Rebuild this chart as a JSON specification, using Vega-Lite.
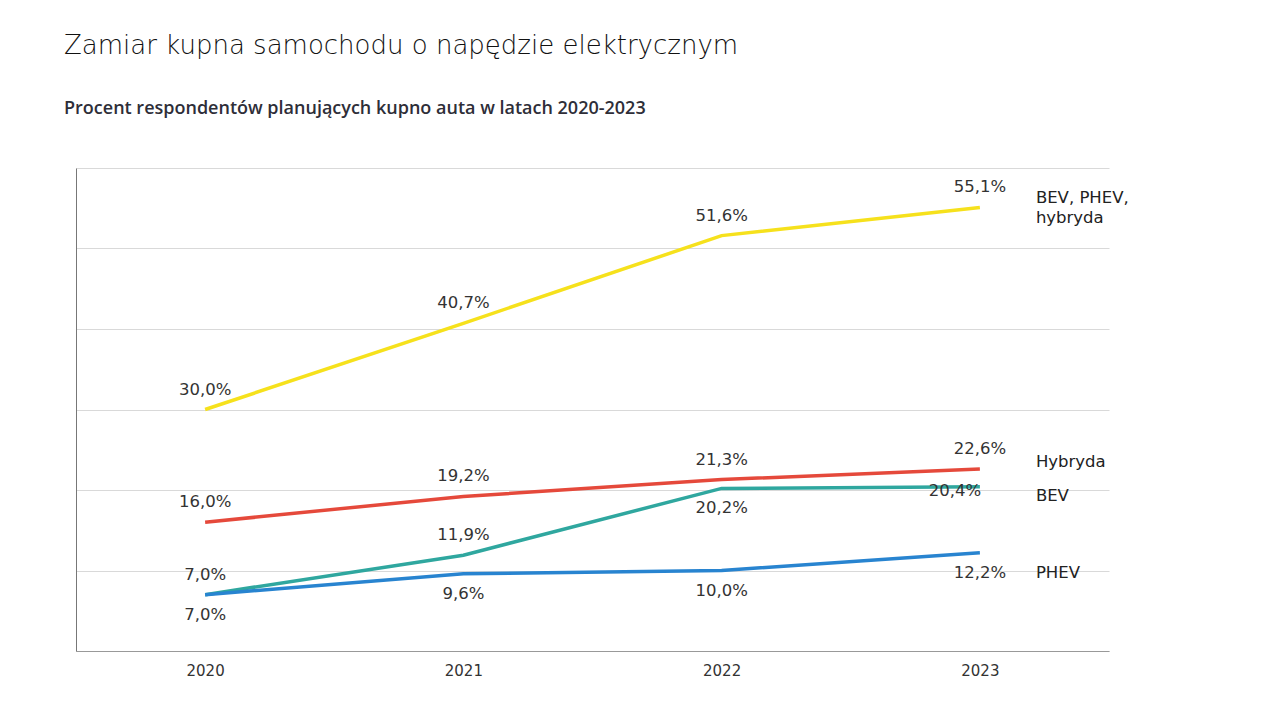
{
  "$schema": "https://vega.github.io/schema/vega-lite/v6.json",
  "autosize": "none",
  "width": 1033,
  "height": 483,
  "padding": {"left": 76, "top": 168, "right": 172, "bottom": 69},
  "background": "#ffffff",
  "title": {
    "text": "Zamiar kupna samochodu o napędzie elektrycznym",
    "subtitle": "Procent respondentów planujących kupno auta w latach 2020-2023",
    "anchor": "start",
    "frame": "group",
    "dx": -12,
    "offset": 50,
    "font": "DejaVu Sans",
    "fontSize": 26,
    "fontWeight": 300,
    "color": "#111111",
    "subtitleFont": "Open Sans",
    "subtitleFontSize": 18,
    "subtitleFontWeight": 600,
    "subtitleColor": "#2e2e38",
    "subtitlePadding": 41
  },
  "data": {
    "values": [
      {"series": "BEV, PHEV, hybryda", "year": "2020", "value": 30.0},
      {"series": "BEV, PHEV, hybryda", "year": "2021", "value": 40.7},
      {"series": "BEV, PHEV, hybryda", "year": "2022", "value": 51.6},
      {"series": "BEV, PHEV, hybryda", "year": "2023", "value": 55.1},
      {"series": "Hybryda", "year": "2020", "value": 16.0},
      {"series": "Hybryda", "year": "2021", "value": 19.2},
      {"series": "Hybryda", "year": "2022", "value": 21.3},
      {"series": "Hybryda", "year": "2023", "value": 22.6},
      {"series": "BEV", "year": "2020", "value": 7.0},
      {"series": "BEV", "year": "2021", "value": 11.9},
      {"series": "BEV", "year": "2022", "value": 20.2},
      {"series": "BEV", "year": "2023", "value": 20.4},
      {"series": "PHEV", "year": "2020", "value": 7.0},
      {"series": "PHEV", "year": "2021", "value": 9.6},
      {"series": "PHEV", "year": "2022", "value": 10.0},
      {"series": "PHEV", "year": "2023", "value": 12.2}
    ]
  },
  "transform": [
    {"calculate": "replace(format(datum.value, '.1f'), '.', ',') + '%'", "as": "label"},
    {"calculate": "replace(datum.series, 'PHEV, ', 'PHEV,\\n')", "as": "name"}
  ],
  "encoding": {
    "x": {
      "field": "year",
      "type": "ordinal",
      "scale": {"type": "point", "padding": 0.5},
      "axis": {
        "title": null,
        "labelAngle": 0,
        "labelFont": "DejaVu Sans",
        "labelFontSize": 15,
        "labelColor": "#333333",
        "labelPadding": 12,
        "ticks": false,
        "domainColor": "#999999",
        "domainWidth": 1,
        "grid": false
      }
    },
    "y": {
      "field": "value",
      "type": "quantitative",
      "scale": {"domain": [0, 60], "nice": false},
      "axis": {
        "title": null,
        "labels": false,
        "ticks": false,
        "values": [0, 10, 20, 30, 40, 50, 60],
        "domainColor": "#777777",
        "domainWidth": 1,
        "grid": true,
        "gridColor": "#d9d9d9",
        "gridWidth": 1
      }
    }
  },
  "layer": [
    {
      "mark": {"type": "line", "strokeWidth": 3.5, "strokeCap": "butt"},
      "encoding": {
        "color": {
          "field": "series",
          "type": "nominal",
          "scale": {
            "domain": ["BEV, PHEV, hybryda", "Hybryda", "BEV", "PHEV"],
            "range": ["#f6e11c", "#e5493b", "#2fa79f", "#2884d0"]
          },
          "legend": null
        },
        "order": {"field": "year"}
      }
    },
    {
      "transform": [
        {"filter": "datum.series != 'PHEV' && !(datum.series == 'BEV' && datum.year >= '2022')"}
      ],
      "mark": {"type": "text", "dy": -20, "font": "DejaVu Sans", "fontSize": 16.5, "color": "#333333"},
      "encoding": {"text": {"field": "label"}}
    },
    {
      "transform": [
        {"filter": "datum.series == 'PHEV' || (datum.series == 'BEV' && datum.year == '2022')"}
      ],
      "mark": {"type": "text", "dy": 20, "font": "DejaVu Sans", "fontSize": 16.5, "color": "#333333"},
      "encoding": {"text": {"field": "label"}}
    },
    {
      "transform": [
        {"filter": "datum.series == 'BEV' && datum.year == '2023'"}
      ],
      "mark": {"type": "text", "dy": 4, "dx": -25, "font": "DejaVu Sans", "fontSize": 16.5, "color": "#333333"},
      "encoding": {"text": {"field": "label"}}
    },
    {
      "transform": [
        {"filter": "datum.year == '2023' && datum.series == 'BEV, PHEV, hybryda'"}
      ],
      "mark": {"type": "text", "align": "left", "dx": 56, "dy": -9, "lineBreak": "\n", "lineHeight": 20, "font": "DejaVu Sans", "fontSize": 16.5, "color": "#222222"},
      "encoding": {"text": {"field": "name"}}
    },
    {
      "transform": [
        {"filter": "datum.year == '2023' && datum.series == 'Hybryda'"}
      ],
      "mark": {"type": "text", "align": "left", "dx": 56, "dy": -7, "font": "DejaVu Sans", "fontSize": 16.5, "color": "#222222"},
      "encoding": {"text": {"field": "name"}}
    },
    {
      "transform": [
        {"filter": "datum.year == '2023' && datum.series == 'BEV'"}
      ],
      "mark": {"type": "text", "align": "left", "dx": 56, "dy": 9, "font": "DejaVu Sans", "fontSize": 16.5, "color": "#222222"},
      "encoding": {"text": {"field": "name"}}
    },
    {
      "transform": [
        {"filter": "datum.year == '2023' && datum.series == 'PHEV'"}
      ],
      "mark": {"type": "text", "align": "left", "dx": 56, "dy": 20, "font": "DejaVu Sans", "fontSize": 16.5, "color": "#222222"},
      "encoding": {"text": {"field": "name"}}
    }
  ],
  "config": {
    "view": {"stroke": null}
  }
}
